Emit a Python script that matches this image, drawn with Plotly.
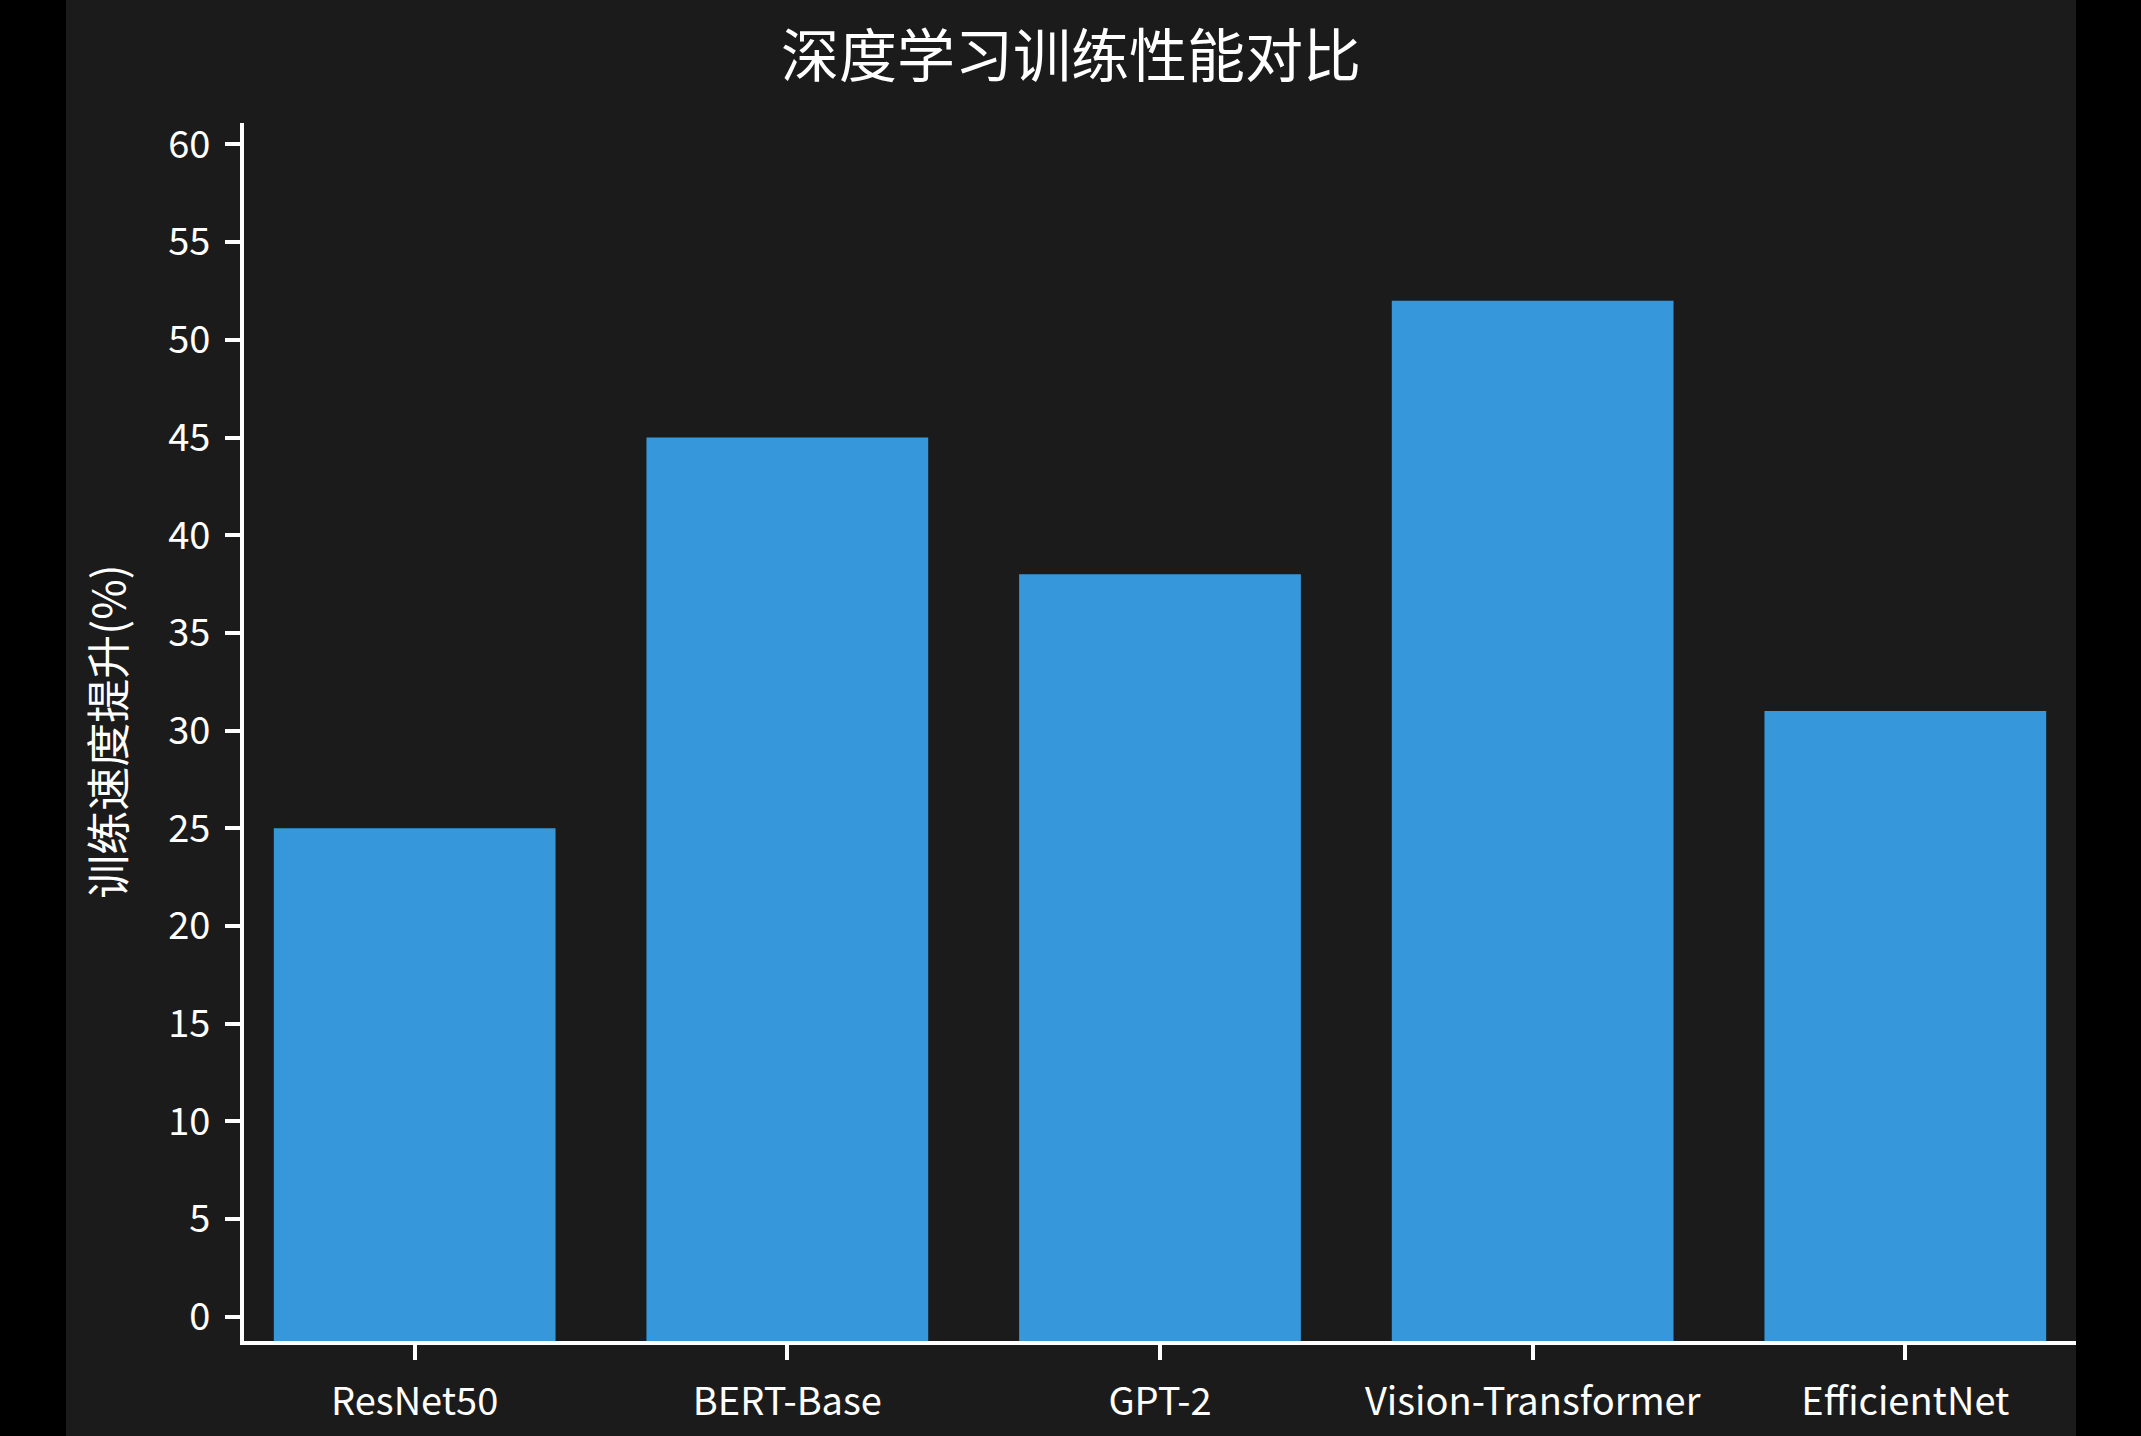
import plotly.graph_objects as go

# data
models = ["ResNet50", "BERT-Base", "GPT-2", "Vision-Transformer", "EfficientNet"]
speedup = [25, 45, 38, 52, 31]
y_ticks = list(range(0, 61, 5))

y_min = -1.25
y_max = 61.1
font = "Noto Sans CJK SC"

fig = go.Figure()
fig.add_trace(go.Bar(
    x=models,
    y=[v - y_min for v in speedup],
    base=[y_min] * len(models),
    marker=dict(color="#3698db", line=dict(width=0)),
    customdata=speedup,
    hovertemplate="%{x}: %{customdata}%<extra></extra>",
))

fig.update_layout(
    width=2010,
    height=1436,
    paper_bgcolor="#1b1b1b",
    plot_bgcolor="#1b1b1b",
    margin=dict(l=178, r=0, t=123, b=95),
    bargap=0.244,
    showlegend=False,
    font=dict(family=font, color="white", size=38),
    title=dict(
        text="深度学习训练性能对比",
        x=0.5, xref="container", xanchor="center",
        y=1 - 57 / 1436, yref="container", yanchor="middle",
        font=dict(family=font, size=58, color="white"),
    ),
)

fig.update_xaxes(
    type="category",
    range=[-0.458, 4.458],
    showline=True, linecolor="white", linewidth=4,
    ticks="outside", ticklen=15, tickwidth=4, tickcolor="white",
    ticklabelstandoff=9,
    showgrid=False, zeroline=False,
    tickfont=dict(family=font, size=38, color="white"),
)
fig.update_yaxes(
    range=[y_min, y_max],
    tickvals=y_ticks,
    showline=True, linecolor="white", linewidth=4,
    ticks="outside", ticklen=15, tickwidth=4, tickcolor="white",
    ticklabelstandoff=7,
    showgrid=False, zeroline=False,
    tickfont=dict(family=font, size=38, color="white"),
)

fig.add_annotation(
    text="训练速度提升(%)",
    xref="paper", yref="paper",
    x=-0.0755, y=0.5,
    xanchor="center", yanchor="middle",
    textangle=-90, showarrow=False,
    font=dict(family=font, size=44, color="white"),
)

post = """
document.body.style.margin = '0';
document.body.style.background = '#000';
document.body.style.overflow = 'hidden';
var gd = document.getElementById('{plot_id}');
gd.style.margin = '0 auto';
"""

fig.write_html("out.html", post_script=post)
